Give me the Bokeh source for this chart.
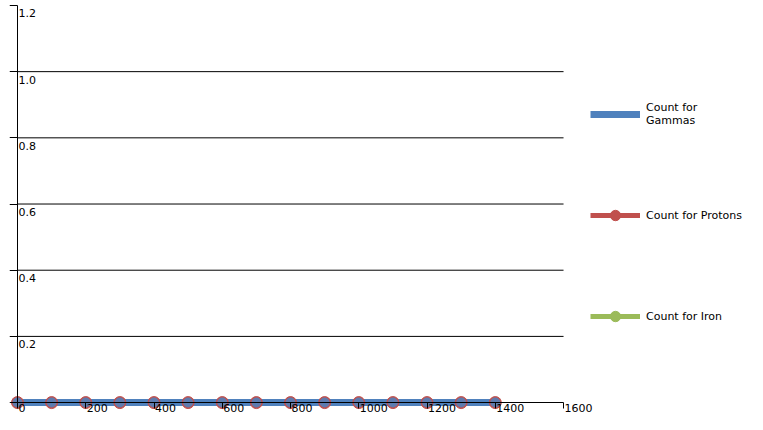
from bokeh.plotting import figure
from bokeh.models import (Range1d, FixedTicker, ColumnDataSource, LabelSet,
                          Legend, LegendItem, CustomJSTickFormatter)
from bokeh.core.properties import value
from bokeh.embed import file_html
from bokeh.resources import INLINE

# ---- data ----
energy = [0, 100, 200, 300, 400, 500, 600, 700, 800, 900, 1000, 1100, 1200, 1300, 1400]
count_gammas = [0, 0, 0, 0, 0, 0, 0, 0, 0, 0, 0, 0, 0, 0, 0]
count_protons = [0, 0, 0, 0, 0, 0, 0, 0, 0, 0, 0, 0, 0, 0, 0]
count_iron = [0, 0, 0, 0, 0, 0, 0, 0, 0, 0, 0, 0, 0, 0, 0]

x_ticks = [0, 200, 400, 600, 800, 1000, 1200, 1400, 1600]
x_tick_labels = ["0", "200", "400", "600", "800", "1000", "1200", "1400", "1600"]
y_ticks = [0, 0.2, 0.4, 0.6, 0.8, 1.0, 1.2]
y_label_ticks = [0.2, 0.4, 0.6, 0.8, 1.0, 1.2]
y_tick_labels = ["0.2", "0.4", "0.6", "0.8", "1.0", "1.2"]
y_grid = [0.2, 0.4, 0.6, 0.8, 1.0]

series_names = ["Count for\nGammas", "Count for Protons", "Count for Iron"]
BLUE, RED, GREEN = "#4f81bd", "#c0504d", "#9bbb59"
FONT = "DejaVu Sans"

# frame spans the figure; axis extent limited with bounds
p = figure(width=747, height=414, output_backend="svg", toolbar_location=None,
           x_range=Range1d(-23.4, 2139), y_range=Range1d(-0.036, 1.215),
           min_border_left=9, min_border_right=0, min_border_top=0,
           min_border_bottom=0)
p.outline_line_color = None
p.background_fill_color = "white"
p.border_fill_color = "white"

blank = CustomJSTickFormatter(code="return ''")

xa = p.xaxis[0]
ya = p.yaxis[0]
xa.fixed_location = 0
ya.fixed_location = 0
xa.bounds = (x_ticks[0], x_ticks[-1])
ya.bounds = (y_ticks[0], y_ticks[-1])
xa.ticker = FixedTicker(ticks=x_ticks)
ya.ticker = FixedTicker(ticks=y_ticks)
for ax in (xa, ya):
    ax.axis_line_color = "black"
    ax.major_tick_line_color = "black"
    ax.minor_tick_line_color = None
    ax.major_tick_in = 0
    ax.formatter = blank
    ax.major_label_standoff = 0
xa.major_tick_out = 6
ya.major_tick_out = 8

p.xgrid.visible = False
p.ygrid.visible = False
# horizontal grid lines across the x-axis extent
p.segment(x0=[x_ticks[0]] * len(y_grid), x1=[x_ticks[-1]] * len(y_grid),
          y0=y_grid, y1=y_grid, line_color="black", line_width=1)

# series
iron_line = p.line(energy, count_iron, line_color=GREEN, line_width=5)
iron_pts = p.scatter(energy, count_iron, marker="circle", size=8,
                     fill_color=GREEN, line_color=GREEN)
prot_line = p.line(energy, count_protons, line_color=RED, line_width=5)
gam_line = p.line(energy, count_gammas, line_color=BLUE, line_width=7)
prot_pts = p.scatter(energy, count_protons, marker="circle", size=12,
                     fill_color=RED, line_color=RED)
gam_pts = p.scatter(energy, count_gammas, marker="circle", size=10,
                    fill_color=BLUE, fill_alpha=0.85, line_color=None)
gam_tick = p.scatter(energy, count_gammas, marker="dash", angle=1.5708, size=6,
                     line_color=BLUE, line_width=1, fill_color=None)

# tick labels (right of axis / right of tick)
ysrc = ColumnDataSource(dict(x=[0] * len(y_label_ticks), y=y_label_ticks, t=y_tick_labels))
p.add_layout(LabelSet(x="x", y="y", text="t", source=ysrc, x_offset=1, y_offset=-4,
                      text_align="left", text_baseline="top",
                      text_font=value(FONT), text_font_size=value("11px"),
                      text_color="black"))
xsrc = ColumnDataSource(dict(x=x_ticks, y=[0] * len(x_ticks), t=x_tick_labels))
p.add_layout(LabelSet(x="x", y="y", text="t", source=xsrc, x_offset=1, y_offset=-1,
                      text_align="left", text_baseline="top",
                      text_font=value(FONT), text_font_size=value("11px"),
                      text_color="black"))

legend = Legend(items=[
    LegendItem(label=series_names[0], renderers=[gam_line, gam_tick]),
    LegendItem(label=series_names[1], renderers=[prot_line, prot_pts]),
    LegendItem(label=series_names[2], renderers=[iron_line, iron_pts]),
], location=(581, 85), orientation="vertical")
legend.glyph_width = 50
legend.glyph_height = 26
legend.spacing = 75
legend.padding = 5
legend.margin = 0
legend.label_standoff = 6
legend.label_text_font = FONT
legend.label_text_font_size = "11px"
legend.label_text_color = "black"
legend.border_line_color = None
legend.background_fill_color = None
p.add_layout(legend, "center")

open("out.html", "w").write(file_html(p, INLINE))
